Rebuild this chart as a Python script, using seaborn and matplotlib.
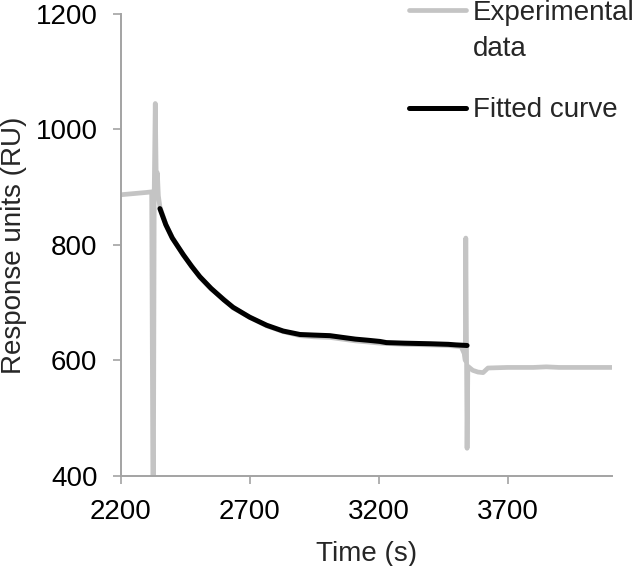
import numpy as np
import matplotlib
matplotlib.use("Agg")
import matplotlib.pyplot as plt
import seaborn as sns

# Experimental sensorgram (time in s, response in RU)
exp_time = [2200, 2250, 2300, 2320, 2326, 2330, 2334, 2338, 2342, 2346, 2352,
            2375, 2400, 2443, 2475, 2507, 2550, 2600, 2636, 2700, 2766, 2830,
            2895, 2950, 3011, 3060, 3110, 3160, 3205, 3300, 3400, 3470, 3520,
            3532, 3536, 3538, 3541, 3543, 3546, 3565, 3585, 3605, 3624, 3700,
            3800, 3850, 3900, 4000, 4105]
exp_ru = [887, 889, 891, 892, 250, 895, 1045, 905, 925, 885, 866,
          836, 813, 782, 764, 744, 724, 706, 691, 675, 660, 650,
          643, 641, 640, 637, 634, 632, 630, 628, 627, 626, 624,
          612, 600, 812, 600, 448, 590, 583, 580, 579, 587, 588,
          588, 589, 588, 588, 588]

# Fitted dissociation curve
fit_time = [2352, 2375, 2400, 2443, 2475, 2507, 2550, 2600, 2636, 2700, 2766,
            2830, 2895, 2950, 3011, 3060, 3110, 3160, 3205, 3230, 3300, 3400,
            3470, 3500, 3543]
fit_ru = [863, 835, 812, 783, 763, 745, 725, 705, 692, 675, 661,
          651, 645, 644, 643, 640, 637, 635, 633, 631, 630, 629,
          628, 627, 626]

x_ticks = [2200, 2700, 3200, 3700]
y_ticks = [400, 600, 800, 1000, 1200]

sns.set_style("ticks")
plt.rcParams["font.family"] = ["Liberation Sans", "DejaVu Sans"]

FS = 20
AXIS_GREY = "#a3a3a3"

fig = plt.figure(figsize=(6.36, 5.66), dpi=100)
ax = fig.add_axes([0.1898, 0.159, 0.9623 - 0.1898, 0.9753 - 0.159])

sns.lineplot(x=exp_time, y=exp_ru, ax=ax, color="#c4c4c4", lw=3.4,
             estimator=None, sort=False, label="Experimental\ndata")
sns.lineplot(x=fit_time, y=fit_ru, ax=ax, color="black", lw=3.6,
             estimator=None, sort=False, label="Fitted curve")

ax.set_xlim(2200, 4105)
ax.set_ylim(400, 1200)
ax.set_xticks(x_ticks)
ax.set_yticks(y_ticks)
ax.tick_params(axis="both", labelsize=FS, length=5.8, width=1.2,
               color=AXIS_GREY, pad=11, labelcolor="black")
for side in ["top", "right"]:
    ax.spines[side].set_visible(False)
for side in ["left", "bottom"]:
    ax.spines[side].set_color(AXIS_GREY)
    ax.spines[side].set_linewidth(1.4)

ax.set_xlabel("Time (s)", fontsize=FS, labelpad=11)
ax.set_ylabel("Response units (RU)", fontsize=FS, labelpad=6)

ax.get_legend().remove()
handles, labels = ax.get_legend_handles_labels()
leg = fig.legend(handles, labels, loc="upper left",
                 bbox_to_anchor=(409 / 636, 1.0), frameon=False,
                 fontsize=FS, borderpad=0, borderaxespad=0,
                 handlelength=2.05, handletextpad=0.25, labelspacing=1.26)
leg.texts[0].set_linespacing(1.515)

# put the grey swatch beside the first line of its two-line label,
# using the single-line entry as the reference for the offset
fig.canvas.draw()
r = fig.canvas.get_renderer()
t0 = leg.texts[0].get_window_extent(r)
t1 = leg.texts[1].get_window_extent(r)
h0, h1 = leg.legend_handles[0], leg.legend_handles[1]
y_h0 = h0.get_transform().transform((0, h0.get_ydata()[0]))[1]
y_h1 = h1.get_transform().transform((0, h1.get_ydata()[0]))[1]
target = t0.y1 + (y_h1 - t1.y1)
shift_pt = (target - y_h0) * 72 / fig.dpi
h0.set_ydata(np.asarray(h0.get_ydata()) + shift_pt)

fig.savefig("out.png", dpi=100)
